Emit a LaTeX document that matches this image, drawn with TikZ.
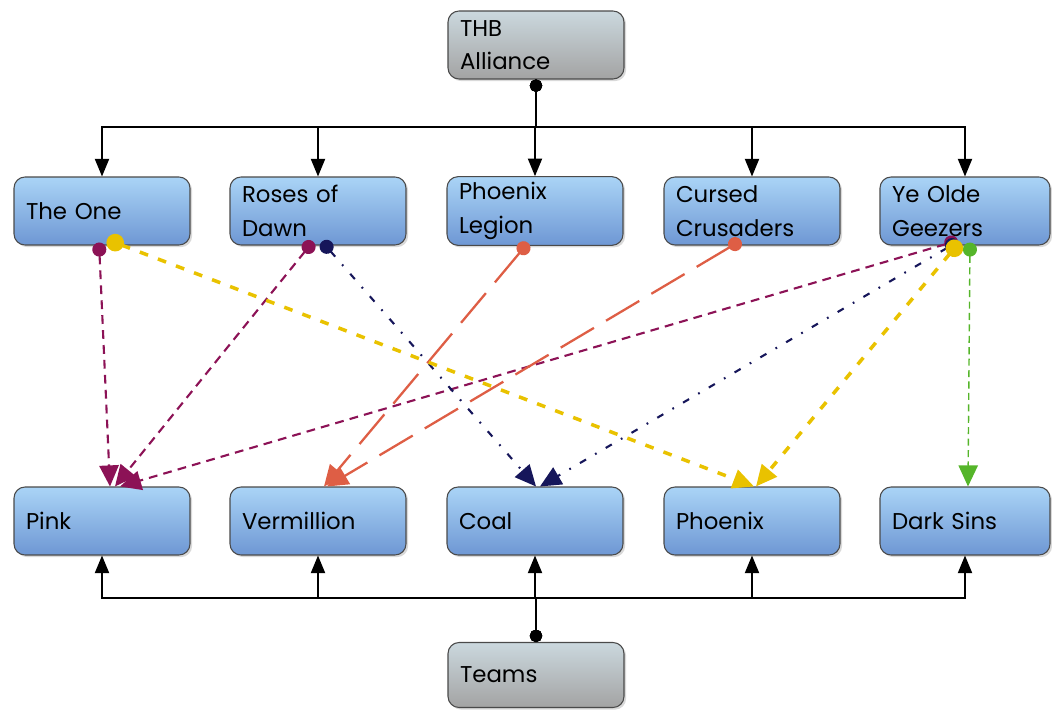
\documentclass[tikz,border=0pt]{standalone}
\usepackage{fontspec}
\setmainfont{Poppins}
\usetikzlibrary{arrows.meta,calc,shadows}
\definecolor{blueTop}{HTML}{AAD4F6}
\definecolor{blueBot}{HTML}{6E97D4}
\definecolor{grayTop}{HTML}{CBD8DE}
\definecolor{grayBot}{HTML}{A3A3A3}
\definecolor{boxLine}{HTML}{4A4A4A}
\definecolor{maroon}{HTML}{8C1256}
\definecolor{navy}{HTML}{16165A}
\definecolor{gold}{HTML}{E9C200}
\definecolor{rust}{HTML}{DE5E45}
\definecolor{leaf}{HTML}{55B52A}
\begin{document}
\begin{tikzpicture}[x=0.02cm,y=-0.02cm,
  box/.style={draw=boxLine,line width=0.6pt,rounded corners=0.22cm,top color=blueTop,bottom color=blueBot,
    minimum height=1.36cm,text width=3.04cm,inner xsep=0.24cm,align=left,
    font=\fontsize{13}{19}\selectfont,drop shadow={shadow xshift=1.2pt,shadow yshift=-1.2pt,opacity=0.3}},
  graybox/.style={box,top color=grayTop,bottom color=grayBot},
  hier/.style={line width=1pt,{Circle[length=7pt]}-{Triangle[length=10pt,width=8pt]}},
  rel/.style={{Circle[length=8pt]}-{Triangle[length=12pt,width=11pt]}},
]
\useasboundingbox (0,0) rectangle (1052,713);
%\draw[help lines] (0,0) grid[step=50] (1052,713);
\node[graybox] (thb) at (536,45) {THB\\Alliance};
\node[box] (one) at (102,211) {The One};
\node[box] (roses) at (318,211) {Roses of\\Dawn};
\node[box] (legion) at (535,211) {Phoenix\\Legion};
\node[box] (cursed) at (752,211) {Cursed\\Crusaders};
\node[box,text width=2.92cm] (geezers) at (965,211) {Ye Olde\\Geezers};
\node[box] (pink) at (102,521) {Pink};
\node[box] (verm) at (318,521) {Vermillion};
\node[box] (coal) at (535,521) {Coal};
\node[box] (phoenix) at (752,521) {Phoenix};
\node[box,text width=2.92cm] (sins) at (965,521) {Dark Sins};
\node[graybox,minimum height=1.3cm] (teams) at (536,675) {Teams};
\coordinate (busT) at (536,127);
\coordinate (busB) at (536,598);
\foreach \n in {one,roses,legion,cursed,geezers}
  \draw[hier] (thb.south) -- (busT) -| (\n.north);
\foreach \n in {pink,verm,coal,phoenix,sins}
  \draw[hier] (teams.north) -- (busB) -| (\n.south);
% alliance members to teams
\draw[rel,leaf,line width=0.8pt,dash pattern=on 4pt off 2.5pt] ($(geezers.south)+(5,-3)$) -- ($(sins.north)+(3,0)$);
\draw[rel,maroon,line width=1.2pt,dash pattern=on 5pt off 3.5pt] ($(one.south)+(-3,-3)$) -- ($(pink.north)+(8,0)$);
\draw[rel,maroon,line width=1.2pt,dash pattern=on 5pt off 3.5pt] ($(roses.south)+(-5,-4)$) -- ($(pink.north)+(13,0)$);
\draw[rel,maroon,line width=1.2pt,dash pattern=on 5pt off 3.5pt] ($(geezers.south)+(-7,-5)$) -- ($(pink.north)+(18,0)$);
\draw[rel,rust,line width=1.3pt,dash pattern=on 22pt off 8pt] ($(legion.south)+(-7,-3)$) -- ($(verm.north)+(6,0)$);
\draw[rel,rust,line width=1.3pt,dash pattern=on 22pt off 8pt] ($(cursed.south)+(-11,-5)$) -- ($(verm.north)+(9,0)$);
\draw[rel,navy,line width=1.2pt,dash pattern=on 4pt off 6pt on 1pt off 6pt] ($(roses.south)+(4,-4)$) -- ($(coal.north)+(1,0)$);
\draw[rel,navy,line width=1.2pt,dash pattern=on 4pt off 6pt on 1pt off 6pt] ($(geezers.south)+(-7,-4)$) -- ($(coal.north)+(5,0)$);
\draw[rel,gold,line width=2pt,dash pattern=on 5pt off 6pt,{Circle[length=10pt]}-{Triangle[length=12pt,width=11pt]}] ($(one.south)+(5,-6)$) -- ($(phoenix.north)+(2,0)$);
\draw[rel,gold,line width=2pt,dash pattern=on 5pt off 6pt,{Circle[length=10pt]}-{Triangle[length=12pt,width=11pt]}] ($(geezers.south)+(-5,-4)$) -- ($(phoenix.north)+(4,0)$);
\end{tikzpicture}
\end{document}
